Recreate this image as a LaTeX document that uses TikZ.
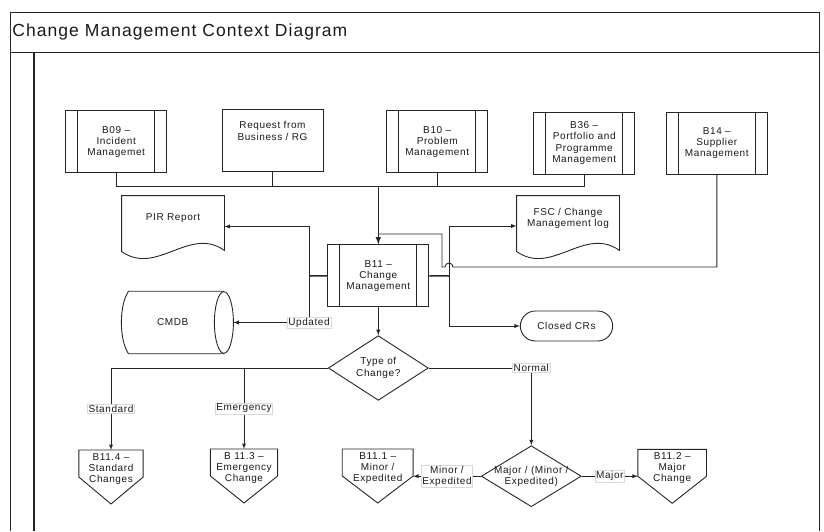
\documentclass[tikz,border=0pt]{standalone}
\usepackage{fontspec}
\setmainfont{Liberation Sans}[LetterSpace=6]
\usepackage{tikz}
\usetikzlibrary{shapes, arrows, positioning}
\usetikzlibrary{calc}

\tikzset{
	proc/.style={rectangle, draw, minimum width=101pt, minimum height=62pt, align=center, inner sep=1pt},
	docu/.style={rectangle, minimum width=102pt, minimum height=45pt, align=center, inner sep=1pt},
	offpage/.style={rectangle, anchor=north, minimum height=37pt, align=center, inner sep=0pt},
	choice/.style={diamond, draw, minimum width=100pt, minimum height=61pt, inner sep=0pt, align=center},
	lab/.style={fill=white, draw=black!15, line width=0.4pt, inner sep=1pt, align=center},
}

\begin{document}
\begin{tikzpicture}[x=1pt, y=-1pt, >=latex, line width=0.9pt, draw=black!85, text=black!90,
	font=\fontsize{10}{11.2}\selectfont]
		\useasboundingbox (0,0) rectangle (824,531);
		
		% --- Cadre ---
		\draw (10,531) -- (10,12) -- (819,12) -- (819,531);
		\draw (10,52) -- (819,52);
		\draw[line width=1.5pt] (34,52) -- (34,531);
		\node[anchor=west, inner sep=0pt, font=\fontsize{17.5}{20}\selectfont] (title) at (12,32) {Change Management Context Diagram};
		
		% --- Ligne du haut ---
		\node[proc] (b09) at (116.2,141.9) {B09 --\\Incident\\Managemet};
		\node[proc] (req) at (272.5,140.9) {Request from\\Business / RG\\[9pt]};
		\node[proc] (b10) at (437.2,141.9) {B10 --\\Problem\\Management};
		\node[proc] (b36) at (584.2,143) {B36 --\\Portfolio and\\Programme\\Management};
		\node[proc] (b14) at (716.8,143) {B14 --\\Supplier\\Management};
		
		% --- Centre ---
		\node[proc] (b11) at (378.3,275.8) {B11 --\\Change\\Management};
		\node[docu] (pir) at (173,218.5) {PIR Report};
		\node[docu] (fsc) at (568,218.5) {FSC / Change\\Management log};
		\node[rectangle, minimum width=101.5pt, minimum height=61.6pt, inner sep=0pt] (cmdb) at (172.7,322.5) {CMDB};
		\node[rounded rectangle, draw, minimum width=99pt, minimum height=30pt] (closed) at (566.5,326) {Closed CRs};
		
		% --- Decisions ---
		\node[choice] (type) at (378.3,368) {Type of\\Change?};
		\node[choice] (major) at (531.3,476.2) {\makebox[0pt]{Major / (Minor /}\\\makebox[0pt]{Expedited)}};
		
		% --- Sorties en bas ---
		\node[offpage, minimum width=63.4pt] (b114) at (111,450) {B11.4 --\\Standard\\Changes};
		\node[offpage, minimum width=66.3pt] (b113) at (244,449) {B 11.3 --\\Emergency\\Change};
		\node[offpage, minimum width=70pt] (b111) at (377.7,449) {B11.1 --\\Minor /\\Expedited};
		\node[offpage, minimum width=67.7pt] (b112) at (672.2,449.3) {B11.2 --\\Major\\Change};
		
		% --- Barres des processus ---
		\foreach \n in {b09, b10, b36, b14, b11} {
			\draw ([xshift=12.5pt]\n.north west) -- ([xshift=12.5pt]\n.south west);
			\draw ([xshift=-12.5pt]\n.north east) -- ([xshift=-12.5pt]\n.south east);
		}
		
		% --- Documents ---
		\foreach \n in {pir, fsc} {
			\draw (\n.north west) -- (\n.north east) -- ($(\n.south east)+(0,9)$)
				.. controls +(-35,-25) and +(35,25) .. ($(\n.south west)+(0,10)$) -- cycle;
		}
		
		% --- Base CMDB ---
		\draw (cmdb.north east) -- ($(cmdb.north west)+(7,0)$)
			.. controls +(-9.5,14) and +(-9.5,-14) .. ($(cmdb.south west)+(7,0)$) -- (cmdb.south east);
		\draw (cmdb.east) ellipse [x radius=9.5pt, y radius=30.8pt];
		
		% --- Pentagones ---
		\foreach \n in {b114, b113, b111, b112} {
			\draw (\n.north west) -- (\n.north east) -- ($(\n.north east)+(0,27)$)
				-- ($(\n.north)+(0,54)$) -- ($(\n.north west)+(0,27)$) -- cycle;
		}
		
		% --- Jonctions ---
		\coordinate (merge) at (378.3,186);
		\coordinate (feed) at (378.3,234);
		\coordinate (split) at (449,276);
		\coordinate (lsplit) at (309,276);
		\coordinate (hop) at (449,267);
		
		% --- Entrees vers B11 ---
		\foreach \i in {b09, req, b10, b36} {
			\draw (\i.south) |- (merge);
		}
		\draw[->, line width=1.5pt] (merge) -- (b11.north);
		\draw (b14.south) |- ($(hop)+(4,0)$)
			arc[start angle=0, end angle=180, radius=4pt] -- ++(-3,0) |- (feed);
		
		% --- Sorties de B11 ---
		\draw[line width=1.5pt] (b11.east) -- (split);
		\draw[line width=1.5pt] (b11.west) -- (lsplit);
		\draw[->] (split) |- ($(fsc.west)+(0,7.5)$);
		\draw[->] (split) |- (closed.west);
		\draw[->] (lsplit) |- ($(pir.east)+(0,8)$);
		\draw[->] (lsplit) |- node[lab, pos=0.5] {Updated} ($(cmdb.east)+(9.5,0)$);
		\draw[->] (b11.south) -- (type.north);
		
		% --- Type de changement ---
		\draw[->] (type.west) -| node[lab, pos=0.75] {Standard} (b114.north);
		\draw[->] (type.west) -| node[lab, pos=0.75] {Emergency} (b113.north);
		\draw[->] (type.east) -| node[lab, pos=0.5] {Normal} (major.north);
		\draw[->] (major.west) -- node[lab] {Minor /\\Expedited} (major.west -| b111.east);
		\draw[->] (major.east) -- node[lab] {Major} (major.east -| b112.west);
		
	\end{tikzpicture}
\end{document}
